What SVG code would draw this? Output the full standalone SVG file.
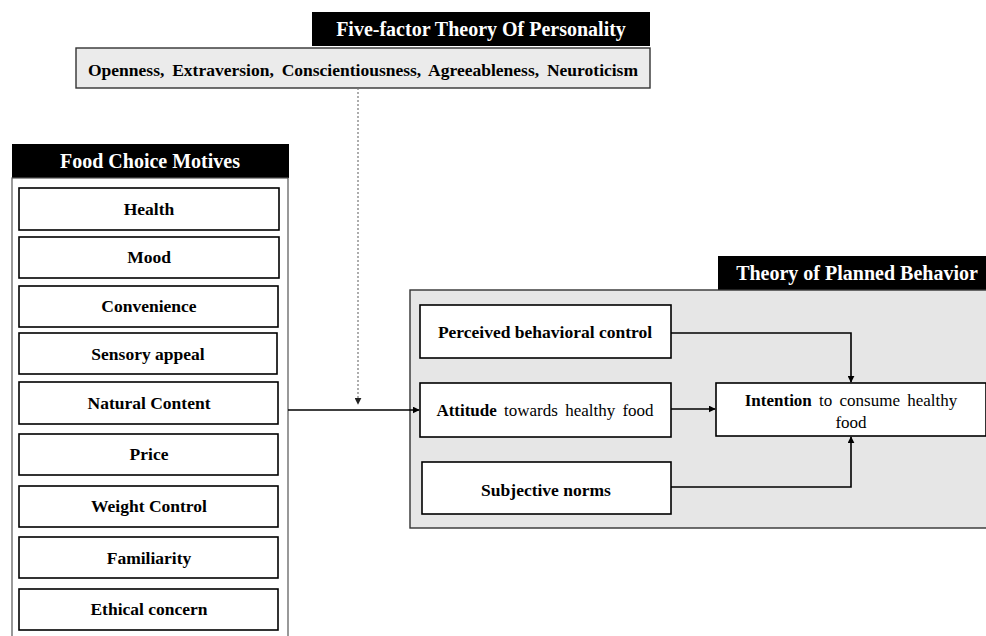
<svg xmlns="http://www.w3.org/2000/svg" width="986" height="636" viewBox="0 0 986 636" font-family="'Liberation Serif', 'Times New Roman', 'DejaVu Serif', serif">
<style>
text{font-family:'Liberation Serif','Times New Roman','DejaVu Serif',serif;fill:#000}
.hdr{fill:#000}
.ht{fill:#fff;font-weight:bold;font-size:20px}
.box{fill:#fff;stroke:#000;stroke-width:1.6}
.it{font-weight:bold;font-size:17.5px;text-anchor:middle}
.ln{fill:none;stroke:#000;stroke-width:1.6}
</style>
<defs>
<marker id="ah" viewBox="0 0 10 10" refX="9" refY="5" markerWidth="7" markerHeight="7" orient="auto" markerUnits="userSpaceOnUse"><path d="M0,0 L10,5 L0,10 z" fill="#000"/></marker>
<marker id="ahs" viewBox="0 0 10 10" refX="9" refY="5" markerWidth="7" markerHeight="7" orient="auto" markerUnits="userSpaceOnUse"><path d="M0,0 L10,5 L0,10 z" fill="#222"/></marker>
</defs>
<rect width="986" height="636" fill="#fff"/>
<g id="five-factor">
<rect class="hdr" x="312" y="12" width="338" height="34"/>
<text class="ht" x="481" y="36" text-anchor="middle">Five-factor Theory Of Personality</text>
<rect x="76" y="48" width="574" height="40" fill="#ebebeb" stroke="#333" stroke-width="1.4"/>
<text x="363" y="76" font-weight="bold" font-size="17.5px" word-spacing="3.5" text-anchor="middle">Openness, Extraversion, Conscientiousness, Agreeableness, Neuroticism</text>
</g>
<g id="food-choice">
<rect class="hdr" x="12" y="144" width="277" height="34"/>
<text class="ht" x="150" y="168" text-anchor="middle">Food Choice Motives</text>
<rect x="12" y="178" width="276" height="470" fill="#fff" stroke="#555" stroke-width="1.2"/>
</g>
<g id="health"><rect class="box" x="19" y="188" width="260" height="42"/><text class="it" x="149" y="215">Health</text></g>
<g id="mood"><rect class="box" x="19" y="237" width="260" height="41"/><text class="it" x="149" y="263">Mood</text></g>
<g id="convenience"><rect class="box" x="19" y="286" width="259" height="41"/><text class="it" x="149" y="312">Convenience</text></g>
<g id="sensory"><rect class="box" x="19" y="333" width="258" height="41"/><text class="it" x="148" y="360">Sensory appeal</text></g>
<g id="natural"><rect class="box" x="19" y="382" width="259" height="42"/><text class="it" x="149" y="409">Natural Content</text></g>
<g id="price"><rect class="box" x="19" y="434" width="259" height="41"/><text class="it" x="149" y="460">Price</text></g>
<g id="weight"><rect class="box" x="19" y="486" width="259" height="41"/><text class="it" x="149" y="512">Weight Control</text></g>
<g id="familiarity"><rect class="box" x="19" y="537" width="259" height="41"/><text class="it" x="149" y="564">Familiarity</text></g>
<g id="ethical"><rect class="box" x="19" y="589" width="259" height="41"/><text class="it" x="149" y="615">Ethical concern</text></g>
<g id="tpb">
<rect class="hdr" x="718" y="256" width="268" height="34"/>
<text class="ht" x="857" y="280" text-anchor="middle">Theory of Planned Behavior</text>
<rect x="410" y="290" width="590" height="238" fill="#e6e6e6" stroke="#333" stroke-width="1.4"/>
</g>
<g id="pbc"><rect class="box" x="420" y="305" width="251" height="53"/><text class="it" x="545" y="338">Perceived behavioral control</text></g>
<g id="attitude"><rect class="box" x="420" y="383" width="251" height="54"/><text x="545" y="416" font-size="17px" text-anchor="middle" word-spacing="3"><tspan font-weight="bold">Attitude</tspan><tspan> towards healthy food</tspan></text></g>
<g id="subjective"><rect class="box" x="422" y="462" width="249" height="52"/><text class="it" x="546" y="496">Subjective norms</text></g>
<g id="intention"><rect class="box" x="716" y="383" width="270" height="53"/><text x="851" y="406" font-size="17px" text-anchor="middle" word-spacing="3"><tspan font-weight="bold">Intention</tspan><tspan> to consume healthy</tspan></text><text x="851" y="428" font-size="17px" text-anchor="middle">food</text></g>
<g id="connectors">
<line x1="358" y1="88" x2="358" y2="404" stroke="#777" stroke-width="1.2" stroke-dasharray="2,2" marker-end="url(#ahs)"/>
<line class="ln" x1="288" y1="410" x2="419" y2="410" marker-end="url(#ah)"/>
<polyline class="ln" points="671,333 851,333 851,382" marker-end="url(#ah)"/>
<line class="ln" x1="671" y1="409" x2="715" y2="409" marker-end="url(#ah)"/>
<polyline class="ln" points="671,487 851,487 851,437" marker-end="url(#ah)"/>
</g>
</svg>
